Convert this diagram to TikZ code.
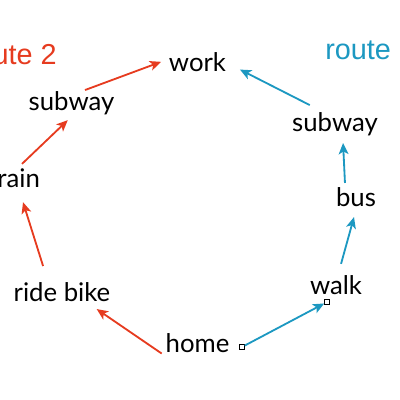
\documentclass[tikz,border=0pt]{standalone}
\usepackage{fontspec}
\setmainfont{Lato}
\newfontfamily\routefont{Liberation Sans}
\usetikzlibrary{arrows.meta}
\definecolor{routered}{HTML}{E63B1F}
\definecolor{routeblue}{HTML}{1C98C1}

\begin{document}
\begin{tikzpicture}[x=0.025cm, y=-0.025cm,
    spot/.style={inner sep=0pt, outer sep=0pt, text height=12.8pt, text depth=3.6pt,
                 font=\fontsize{18.3}{21}\selectfont},
    rlabel/.style={inner sep=0pt, font=\routefont\fontsize{20.5}{24}\selectfont},
    redarr/.style={-{Stealth[length=8pt, width=7pt, inset=2pt]}, line width=1.3pt, color=routered},
    bluearr/.style={-{Stealth[length=8pt, width=7pt, inset=2pt]}, line width=1.3pt, color=routeblue},
    handle/.style={rectangle, draw=black, fill=white, line width=0.4pt,
                   minimum size=3.5pt, inner sep=0pt}
  ]
    \useasboundingbox (0,0) rectangle (400,400);

    %% Places
    \node[spot] (work) at (197.5, 65.5) {work};
    \node[spot] (home) at (197.5, 346.5) {home};

    %% Route 2
    \node[rlabel, text=routered, anchor=base east] (rtwo) at (57, 65) {route 2};
    \node[spot] (subred) at (71.5, 104.5) {subway};
    \node[spot] (train) at (14, 181.5) {train};
    \node[spot] (bike) at (62, 295.5) {ride bike};
    \draw[redarr, shorten <=0.12cm, shorten >=0.09cm] (home.197) -- (bike.-20);
    \draw[redarr, shorten <=0.47cm, shorten >=0.24cm] (bike.139) -- (train.-62);
    \draw[redarr, shorten <=0.22cm, shorten >=0.15cm] (train.82) -- (subred.-87);
    \draw[redarr, shorten <=0.21cm, shorten >=0.21cm] (subred.64) -- (work.167);

    %% Route 1
    \node[rlabel, text=routeblue, anchor=base west] (rone) at (325, 60) {route 1};
    \node[spot] (walk) at (336, 288.5) {walk};
    \node[spot] (bus) at (356, 200.5) {bus};
    \node[spot] (subblue) at (335, 125.5) {subway};
    \node[handle] (hstart) at (242, 347) {};
    \node[handle] (hend) at (327, 302) {};
    \draw[bluearr] (hstart) -- (hend);
    \draw[bluearr, shorten <=0.34cm, shorten >=0.13cm] (walk.83) -- (bus.-93);
    \draw[bluearr, shorten <=0.15cm, shorten >=0.15cm] (bus.133) -- (subblue.-56);
    \draw[bluearr, shorten <=0.49cm, shorten >=0.39cm] (subblue.124) -- (work.6);
  \end{tikzpicture}
\end{document}
